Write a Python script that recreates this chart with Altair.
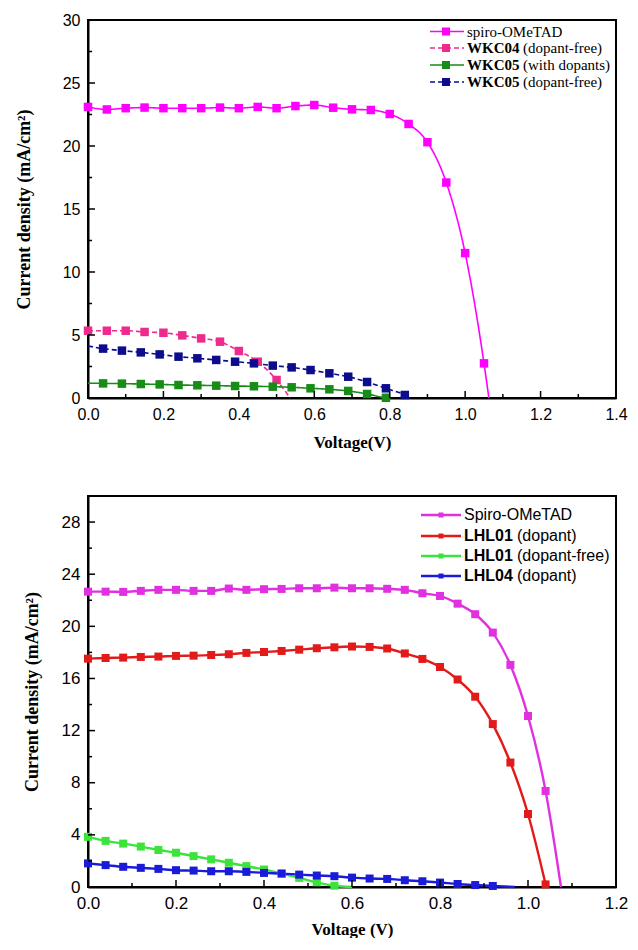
import altair as alt
import pandas as pd

# ---------------- top panel data ----------------
TOP_NAMES = ["spiro-OMeTAD", "WKC04 (dopant-free)", "WKC05 (with dopants)", "WKC05 (dopant-free)"]
TOP_COLORS = ["#FF00FF", "#EE2B8C", "#178C17", "#0C0C8C"]
TOP_DASHES = [[1, 0], [5, 3], [1, 0], [5, 3]]

top_spiro_v = [0.00, 0.05, 0.10, 0.15, 0.20, 0.25, 0.30, 0.35, 0.40, 0.45, 0.50,
               0.55, 0.60, 0.65, 0.70, 0.75, 0.80, 0.85, 0.90, 0.95, 1.00, 1.05, 1.063]
top_spiro_j = [23.1, 22.9, 23.0, 23.05, 23.0, 23.0, 23.0, 23.05, 23.0, 23.1, 23.0,
               23.17, 23.25, 23.04, 22.91, 22.86, 22.54, 21.75, 20.3, 17.1, 11.5, 2.75, 0.0]
top_spiro_m = [1] * 22 + [0]

top_wkc04_v = [0.00, 0.05, 0.10, 0.15, 0.20, 0.25, 0.30, 0.35, 0.40, 0.45, 0.50, 0.536]
top_wkc04_j = [5.34, 5.34, 5.34, 5.24, 5.18, 4.97, 4.73, 4.47, 3.73, 2.88, 1.43, 0.0]
top_wkc04_m = [1] * 11 + [0]

top_wkc05d_v = [0.00, 0.04, 0.09, 0.14, 0.19, 0.24, 0.29, 0.34, 0.39, 0.44, 0.49,
                0.54, 0.59, 0.64, 0.69, 0.74, 0.79, 0.80]
top_wkc05d_j = [1.18, 1.16, 1.14, 1.11, 1.08, 1.03, 1.01, 0.98, 0.95, 0.93, 0.90,
                0.85, 0.77, 0.69, 0.56, 0.32, 0.02, 0.0]
top_wkc05d_m = [0] + [1] * 16 + [0]

top_wkc05f_v = [0.00, 0.04, 0.09, 0.14, 0.19, 0.24, 0.29, 0.34, 0.39, 0.44, 0.49,
                0.54, 0.59, 0.64, 0.69, 0.74, 0.79, 0.84, 0.855]
top_wkc05f_j = [4.13, 3.92, 3.76, 3.62, 3.46, 3.28, 3.15, 3.02, 2.88, 2.75, 2.57,
                2.43, 2.22, 1.96, 1.69, 1.27, 0.77, 0.24, 0.0]
top_wkc05f_m = [0] + [1] * 17 + [0]

TOP_X_TICKS = [0.0, 0.2, 0.4, 0.6, 0.8, 1.0, 1.2, 1.4]
TOP_X_MINOR = [0.1, 0.3, 0.5, 0.7, 0.9, 1.1, 1.3]
TOP_Y_TICKS = [0, 5, 10, 15, 20, 25, 30]
TOP_Y_MINOR = [2.5, 7.5, 12.5, 17.5, 22.5, 27.5]

# ---------------- bottom panel data ----------------
BOT_NAMES = ["Spiro-OMeTAD", "LHL01 (dopant)", "LHL01 (dopant-free)", "LHL04 (dopant)"]
BOT_COLORS = ["#E030E0", "#E21A1A", "#3BE33B", "#1A1AD9"]

bot_spiro_v = [0.00, 0.04, 0.08, 0.12, 0.16, 0.20, 0.24, 0.28, 0.32, 0.36, 0.40, 0.44,
               0.48, 0.52, 0.56, 0.60, 0.64, 0.68, 0.72, 0.76, 0.80, 0.84, 0.88, 0.92,
               0.96, 1.00, 1.04, 1.075]
bot_spiro_j = [22.66, 22.66, 22.64, 22.72, 22.8, 22.8, 22.72, 22.72, 22.9, 22.8, 22.85, 22.87,
               22.92, 22.92, 22.97, 22.92, 22.92, 22.88, 22.8, 22.54, 22.33, 21.74, 20.93, 19.52,
               17.04, 13.12, 7.37, 0.0]
bot_spiro_m = [1] * 27 + [0]

bot_lhl01d_v = [0.00, 0.04, 0.08, 0.12, 0.16, 0.20, 0.24, 0.28, 0.32, 0.36, 0.40, 0.44,
                0.48, 0.52, 0.56, 0.60, 0.64, 0.68, 0.72, 0.76, 0.80, 0.84, 0.88, 0.92,
                0.96, 1.00, 1.04]
bot_lhl01d_j = [17.52, 17.57, 17.6, 17.65, 17.68, 17.73, 17.75, 17.8, 17.86, 17.96, 18.03, 18.11,
                18.21, 18.32, 18.39, 18.45, 18.42, 18.3, 17.92, 17.5, 16.88, 15.92, 14.6, 12.5,
                9.55, 5.6, 0.2]
bot_lhl01d_m = [1] * 27

bot_lhl01f_v = [0.00, 0.04, 0.08, 0.12, 0.16, 0.20, 0.24, 0.28, 0.32, 0.36, 0.40, 0.44,
                0.48, 0.52, 0.56, 0.60]
bot_lhl01f_j = [3.85, 3.54, 3.33, 3.1, 2.84, 2.63, 2.37, 2.12, 1.86, 1.6, 1.34, 1.03,
                0.7, 0.36, 0.1, 0.0]
bot_lhl01f_m = [1] * 15 + [0]

bot_lhl04_v = [0.00, 0.04, 0.08, 0.12, 0.16, 0.20, 0.24, 0.28, 0.32, 0.36, 0.40, 0.44,
               0.48, 0.52, 0.56, 0.60, 0.64, 0.68, 0.72, 0.76, 0.80, 0.84, 0.88, 0.92, 0.97]
bot_lhl04_j = [1.81, 1.68, 1.55, 1.47, 1.39, 1.29, 1.26, 1.21, 1.21, 1.16, 1.08, 1.03,
               0.95, 0.88, 0.83, 0.72, 0.65, 0.62, 0.52, 0.44, 0.34, 0.23, 0.15, 0.08, 0.0]
bot_lhl04_m = [1] * 24 + [0]

BOT_X_TICKS = [0.0, 0.2, 0.4, 0.6, 0.8, 1.0, 1.2]
BOT_X_MINOR = [0.1, 0.3, 0.5, 0.7, 0.9, 1.1]
BOT_Y_TICKS = [0, 4, 8, 12, 16, 20, 24, 28]
BOT_Y_MINOR = [2, 6, 10, 14, 18, 22, 26, 30]

W = 528
H1 = 378
H2 = 391


def frame(names, vs, js, ms):
    parts = []
    for n, v, j, m in zip(names, vs, js, ms):
        parts.append(pd.DataFrame({"s": n, "V": v, "J": j, "m": m}))
    return pd.concat(parts, ignore_index=True)


def tick_layers(xs, ys, xax, yax, xmaj, xmin, ymaj, ymin, h):
    out = []
    for vals, ln in ((xmaj, 7), (xmin, 4)):
        out.append(alt.Chart(pd.DataFrame({"V": vals})).mark_rule(color="black", strokeWidth=1.5)
                   .encode(x=alt.X("V:Q", scale=xs, axis=xax), y=alt.value(h), y2=alt.value(h - ln)))
    for vals, ln in ((ymaj, 7), (ymin, 4)):
        out.append(alt.Chart(pd.DataFrame({"J": vals})).mark_rule(color="black", strokeWidth=1.5)
                   .encode(y=alt.Y("J:Q", scale=ys, axis=yax), x=alt.value(0), x2=alt.value(ln)))
    return out


def legend_layers(rows, colors, dashes, x1, x2, xm, xt, xt2, ys, font, size, lw, msize):
    out = []
    one = pd.DataFrame({"a": [0]})
    for i, (bold, rest) in enumerate(rows):
        y = ys[i]
        out.append(alt.Chart(one).mark_rule(color=colors[i], strokeWidth=lw, strokeDash=dashes[i])
                   .encode(x=alt.value(x1), x2=alt.value(x2), y=alt.value(y)))
        out.append(alt.Chart(one).mark_point(shape="square", filled=True, size=msize, color=colors[i],
                                              opacity=1, strokeWidth=0)
                   .encode(x=alt.value(xm), y=alt.value(y)))
        if bold:
            out.append(alt.Chart(one).mark_text(align="left", baseline="middle", font=font, fontSize=size,
                                                 fontWeight="bold", color="black")
                       .encode(x=alt.value(xt), y=alt.value(y), text=alt.value(bold)))
            out.append(alt.Chart(one).mark_text(align="left", baseline="middle", font=font, fontSize=size,
                                                 color="black")
                       .encode(x=alt.value(xt2), y=alt.value(y), text=alt.value(rest)))
        else:
            out.append(alt.Chart(one).mark_text(align="left", baseline="middle", font=font, fontSize=size,
                                                 color="black")
                       .encode(x=alt.value(xt), y=alt.value(y), text=alt.value(rest)))
    return out


# ---------------- top panel ----------------
top_df = frame(TOP_NAMES,
               [top_spiro_v, top_wkc04_v, top_wkc05d_v, top_wkc05f_v],
               [top_spiro_j, top_wkc04_j, top_wkc05d_j, top_wkc05f_j],
               [top_spiro_m, top_wkc04_m, top_wkc05d_m, top_wkc05f_m])

xs1 = alt.Scale(domain=[0, 1.4], nice=False, zero=False)
ys1 = alt.Scale(domain=[0, 30], nice=False)
xax1 = alt.Axis(title="Voltage(V)", values=TOP_X_TICKS, format=".1f", labelFont="Liberation Sans",
                labelFontSize=16, labelPadding=8, labelFlush=False, titleFont="Liberation Serif",
                titleFontWeight="bold", titleFontSize=17, titlePadding=12, ticks=False, grid=False,
                domainColor="black", domainWidth=2, labelColor="black", titleColor="black")
yax1 = alt.Axis(title="Current density (mA/cm²)", values=TOP_Y_TICKS, format="d",
                labelFont="Liberation Sans", labelFontSize=16, labelPadding=8, labelFlush=False,
                titleFont="Liberation Serif", titleFontWeight="bold", titleFontSize=18, titlePadding=29,
                ticks=False, grid=False, domainColor="black", domainWidth=2, labelColor="black",
                titleColor="black")
col1 = alt.Color("s:N", scale=alt.Scale(domain=TOP_NAMES, range=TOP_COLORS), legend=None)

top_line = alt.Chart(top_df).mark_line(interpolate="monotone", strokeWidth=1.6).encode(
    x=alt.X("V:Q", scale=xs1, axis=xax1),
    y=alt.Y("J:Q", scale=ys1, axis=yax1),
    color=col1,
    strokeDash=alt.StrokeDash("s:N", scale=alt.Scale(domain=TOP_NAMES, range=TOP_DASHES), legend=None),
    detail="s:N",
)
top_pts = alt.Chart(top_df).transform_filter("datum.m == 1").mark_point(
    shape="square", filled=True, size=72, opacity=1, strokeWidth=0).encode(
    x=alt.X("V:Q", scale=xs1, axis=xax1), y=alt.Y("J:Q", scale=ys1, axis=yax1), color=col1)

top_leg = legend_layers(
    [("", "spiro-OMeTAD"), ("WKC04", "(dopant-free)"), ("WKC05", "(with dopants)"), ("WKC05", "(dopant-free)")],
    TOP_COLORS, TOP_DASHES, 342, 376, 358, 379, 435, [11.5, 28, 45, 62],
    "Liberation Serif", 15, 1.6, 64)

top = alt.layer(top_line, top_pts,
                *tick_layers(xs1, ys1, xax1, yax1, TOP_X_TICKS, TOP_X_MINOR, TOP_Y_TICKS, TOP_Y_MINOR, H1),
                *top_leg).properties(width=W, height=H1)

# ---------------- bottom panel ----------------
bot_df = frame(BOT_NAMES,
               [bot_spiro_v, bot_lhl01d_v, bot_lhl01f_v, bot_lhl04_v],
               [bot_spiro_j, bot_lhl01d_j, bot_lhl01f_j, bot_lhl04_j],
               [bot_spiro_m, bot_lhl01d_m, bot_lhl01f_m, bot_lhl04_m])

xs2 = alt.Scale(domain=[0, 1.2], nice=False, zero=False)
ys2 = alt.Scale(domain=[0, 30], nice=False)
xax2 = alt.Axis(title="Voltage (V)", values=BOT_X_TICKS, format=".1f", labelFont="Liberation Sans",
                labelFontSize=17, labelPadding=8, labelFlush=False, titleFont="Liberation Serif",
                titleFontWeight="bold", titleFontSize=17, titlePadding=10, ticks=False, grid=False,
                domainColor="black", domainWidth=2, labelColor="black", titleColor="black")
yax2 = alt.Axis(title="Current density (mA/cm²)", values=BOT_Y_TICKS, format="d",
                labelFont="Liberation Sans", labelFontSize=17, labelPadding=8, labelFlush=False,
                titleFont="Liberation Serif", titleFontWeight="bold", titleFontSize=18, titlePadding=20,
                ticks=False, grid=False, domainColor="black", domainWidth=2, labelColor="black",
                titleColor="black")
col2 = alt.Color("s:N", scale=alt.Scale(domain=BOT_NAMES, range=BOT_COLORS), legend=None)

bot_line = alt.Chart(bot_df).mark_line(interpolate="monotone", strokeWidth=2.4).encode(
    x=alt.X("V:Q", scale=xs2, axis=xax2),
    y=alt.Y("J:Q", scale=ys2, axis=yax2),
    color=col2,
    detail="s:N",
)
bot_pts = alt.Chart(bot_df).transform_filter("datum.m == 1").mark_point(
    shape="square", filled=True, size=64, opacity=1, strokeWidth=0).encode(
    x=alt.X("V:Q", scale=xs2, axis=xax2), y=alt.Y("J:Q", scale=ys2, axis=yax2), color=col2)

bot_leg = legend_layers(
    [("", "Spiro-OMeTAD"), ("LHL01", "(dopant)"), ("LHL01", "(dopant-free)"), ("LHL04", "(dopant)")],
    BOT_COLORS, [[1, 0]] * 4, 333, 373, 353, 376, 429, [19, 40, 60, 80],
    "Liberation Sans", 16, 2.4, 25)

bot = alt.layer(bot_line, bot_pts,
                *tick_layers(xs2, ys2, xax2, yax2, BOT_X_TICKS, BOT_X_MINOR, BOT_Y_TICKS, BOT_Y_MINOR, H2),
                *bot_leg).properties(width=W, height=H2)

chart = alt.vconcat(top, bot, spacing=43).resolve_scale(
    color="independent", strokeDash="independent", x="independent", y="independent"
).properties(
    padding={"left": 6, "top": 3, "right": 0, "bottom": 0}
).configure_view(stroke="black", strokeWidth=2)

chart.save("out.html", embed_options={"renderer": "svg", "actions": False})
